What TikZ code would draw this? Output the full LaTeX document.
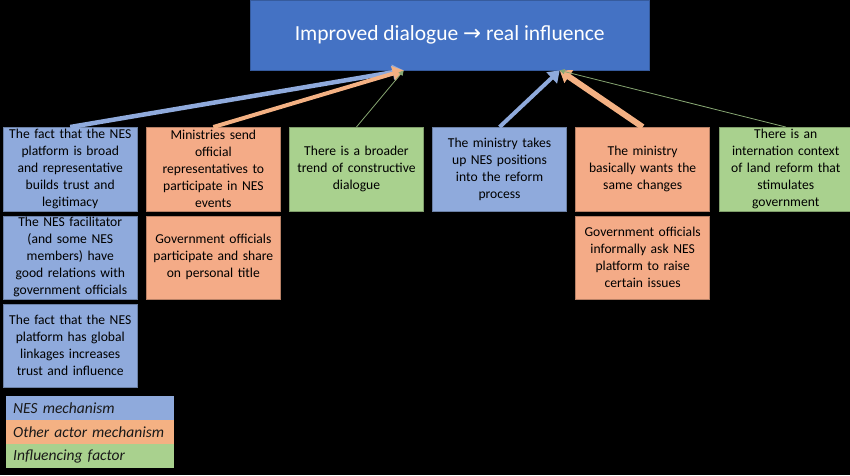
\documentclass[tikz,border=0pt]{standalone}
\usepackage{fontspec}
\setmainfont{Carlito}
\newfontfamily\arrowfont{DejaVu Sans}
\usetikzlibrary{positioning, arrows.meta}

\definecolor{goalblue}{HTML}{4472C4}
\definecolor{nesblue}{HTML}{8FAADC}
\definecolor{actororange}{HTML}{F4AB87}
\definecolor{arroworange}{HTML}{F4B183}
\definecolor{factorgreen}{HTML}{A9D18E}

\tikzset{
  box/.style={minimum width=134pt, minimum height=84pt, text width=132pt,
    inner sep=0pt, align=center, text=black, line width=0.5pt,
    font=\fontsize{13.6}{17}\selectfont},
  nesbox/.style={box, fill=nesblue, draw=nesblue!75!black},
  actorbox/.style={box, fill=actororange, draw=actororange!75!black},
  factorbox/.style={box, fill=factorgreen, draw=factorgreen!75!black},
  legend/.style={minimum width=168pt, minimum height=23.7pt, text width=154pt,
    inner sep=0pt, align=left, font=\fontsize{15.5}{17}\selectfont\itshape, text=black!90},
  nesarrow/.style={draw=nesblue, line width=4.5pt, -{Triangle[width=15pt,length=11pt]}},
  actorarrow/.style={draw=arroworange, line width=4.5pt, -{Triangle[width=15pt,length=11pt]}},
  factorarrow/.style={draw=factorgreen!80!black, line width=0.8pt, -{Triangle[width=5pt,length=5pt]}}
}

\begin{document}
\begin{tikzpicture}[x=1pt, y=1pt]
  \fill[black] (0,0) rectangle (850,-475);
  \useasboundingbox (0,0) rectangle (850,-475);

  % goal
  \node[fill=goalblue, draw=goalblue!80!black, minimum width=399pt, minimum height=70pt,
    inner sep=0pt, text=white, font=\fontsize{21.5}{24}\selectfont, anchor=north west]
    (goal) at (250,0) {Improved dialogue {\arrowfont →} real influence};

  % first row
  \node[nesbox, anchor=north west] (platform) at (3,-127)
    {The fact that the NES\\ platform is broad\\ and representative\\ builds trust and\\ legitimacy};
  \node[actorbox, right=8.6pt of platform] (ministries)
    {Ministries send\\ official\\ representatives to\\ participate in NES\\ events};
  \node[factorbox, right=8.6pt of ministries] (trend)
    {There is a broader\\ trend of constructive\\ dialogue};
  \node[nesbox, right=8.6pt of trend] (positions)
    {The ministry takes\\ up NES positions\\ into the reform\\ process};
  \node[actorbox, right=8.6pt of positions] (changes)
    {The ministry\\ basically wants the\\ same changes};
  \node[factorbox, right=8.6pt of changes] (context)
    {There is an\\ internation context\\ of land reform that\\ stimulates\\ government};

  % lower rows
  \node[nesbox, minimum height=83pt, below=4pt of platform] (facilitator)
    {The NES facilitator\\ (and some NES\\ members) have\\ good relations with\\ government officials};
  \node[nesbox, minimum height=83pt, below=4.5pt of facilitator] (linkages)
    {The fact that the NES\\ platform has global\\ linkages increases\\ trust and influence};
  \node[actorbox, minimum height=83pt, below=4pt of ministries] (title)
    {Government officials\\ participate and share\\ on personal title};
  \node[actorbox, minimum height=83pt, below=4pt of changes] (issues)
    {Government officials\\ informally ask NES\\ platform to raise\\ certain issues};

  % legend
  \node[legend, fill=nesblue, anchor=north west] (legnes) at (6,-396) {NES mechanism};
  \node[legend, fill=arroworange, below=0pt of legnes] (legactor) {Other actor mechanism};
  \node[legend, fill=factorgreen, below=0pt of legactor] (legfactor) {Influencing factor};

  % arrows
  \coordinate (hitL) at ([xshift=-46pt]goal.south);
  \coordinate (hitR) at ([xshift=110pt]goal.south);
  \path (platform.north) edge[nesarrow] (hitL)
        (ministries.north) edge[actorarrow, line width=4pt] (hitL)
        (trend.north) edge[factorarrow] (hitL)
        (positions.north) edge[nesarrow, line width=4pt] (hitR)
        (changes.north) edge[actorarrow, line width=6pt] (hitR)
        (context.north) edge[factorarrow] (hitR);
\end{tikzpicture}
\end{document}
